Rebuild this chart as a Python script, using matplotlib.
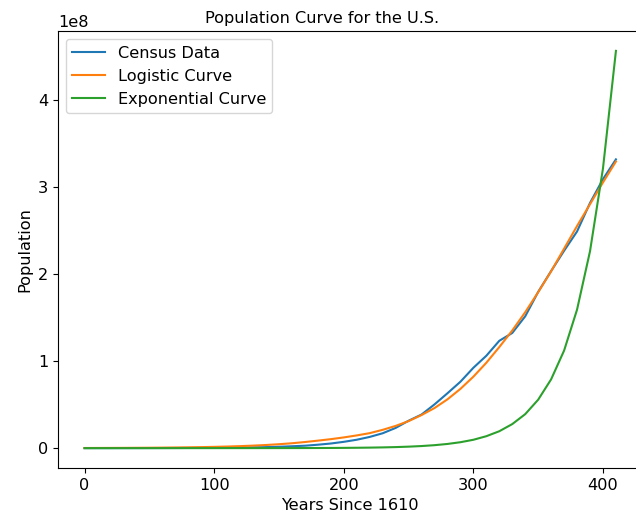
import numpy as np
import matplotlib
matplotlib.use("Agg")
import matplotlib.pyplot as plt

plt.rcParams["font.size"] = 11.6

years = list(range(0, 420, 10))  # years since 1610

census = [350, 2302, 4646, 26634, 50368, 75058, 111935, 151507, 210372, 250888,
          331711, 466185, 629445, 905563, 1170760, 1593625, 2148076, 2780369,
          3929214, 5308483, 7239881, 9638453, 12866020, 17069453, 23191876,
          31443321, 38558371, 50189209, 62979766, 76212168, 92228496, 106021537,
          123202624, 132164569, 151325798, 179323175, 203302031, 226542199,
          248709873, 281421906, 308745538, 331449281]

# millions
logistic_m = [0.15, 0.19, 0.24, 0.30, 0.38, 0.47, 0.59, 0.74, 0.93, 1.17,
              1.46, 1.83, 2.3, 2.88, 3.6, 4.5, 5.6, 7.0, 8.6, 10.3,
              12.3, 14.6, 17.2, 21.0, 25.5, 31.0, 38.0, 46.0, 56.0, 68.0,
              82.0, 98.0, 116.0, 135.0, 156.0, 179.0, 203.0, 229.0, 255.0, 280.0,
              305.0, 329.0]

# millions
exponential_m = [0.0004, 0.0005, 0.0007, 0.001, 0.0014, 0.002, 0.003, 0.004, 0.005, 0.007,
                 0.01, 0.015, 0.02, 0.03, 0.04, 0.05, 0.08, 0.11, 0.15, 0.21,
                 0.3, 0.43, 0.6, 0.85, 1.2, 1.7, 2.4, 3.4, 4.8, 6.8,
                 9.6, 13.7, 19.4, 27.6, 39.0, 55.6, 79.0, 112.0, 159.0, 226.0,
                 321.0, 456.0]

fig = plt.figure(figsize=(6.36, 5.2), dpi=100)
ax = fig.add_axes([58/636, 1 - 468/520, 584.5/636, (468 - 31)/520])

ax.plot(years, census, label="Census Data")
ax.plot(years, np.array(logistic_m) * 1e6, label="Logistic Curve")
ax.plot(years, np.array(exponential_m) * 1e6, label="Exponential Curve")

ax.set_title("Population Curve for the U.S.", fontsize=11.6, x=0.452)
ax.set_xlabel("Years Since 1610")
ax.set_ylabel("Population")
ax.legend(loc="upper left")

fig.savefig("out.png", dpi=100)
